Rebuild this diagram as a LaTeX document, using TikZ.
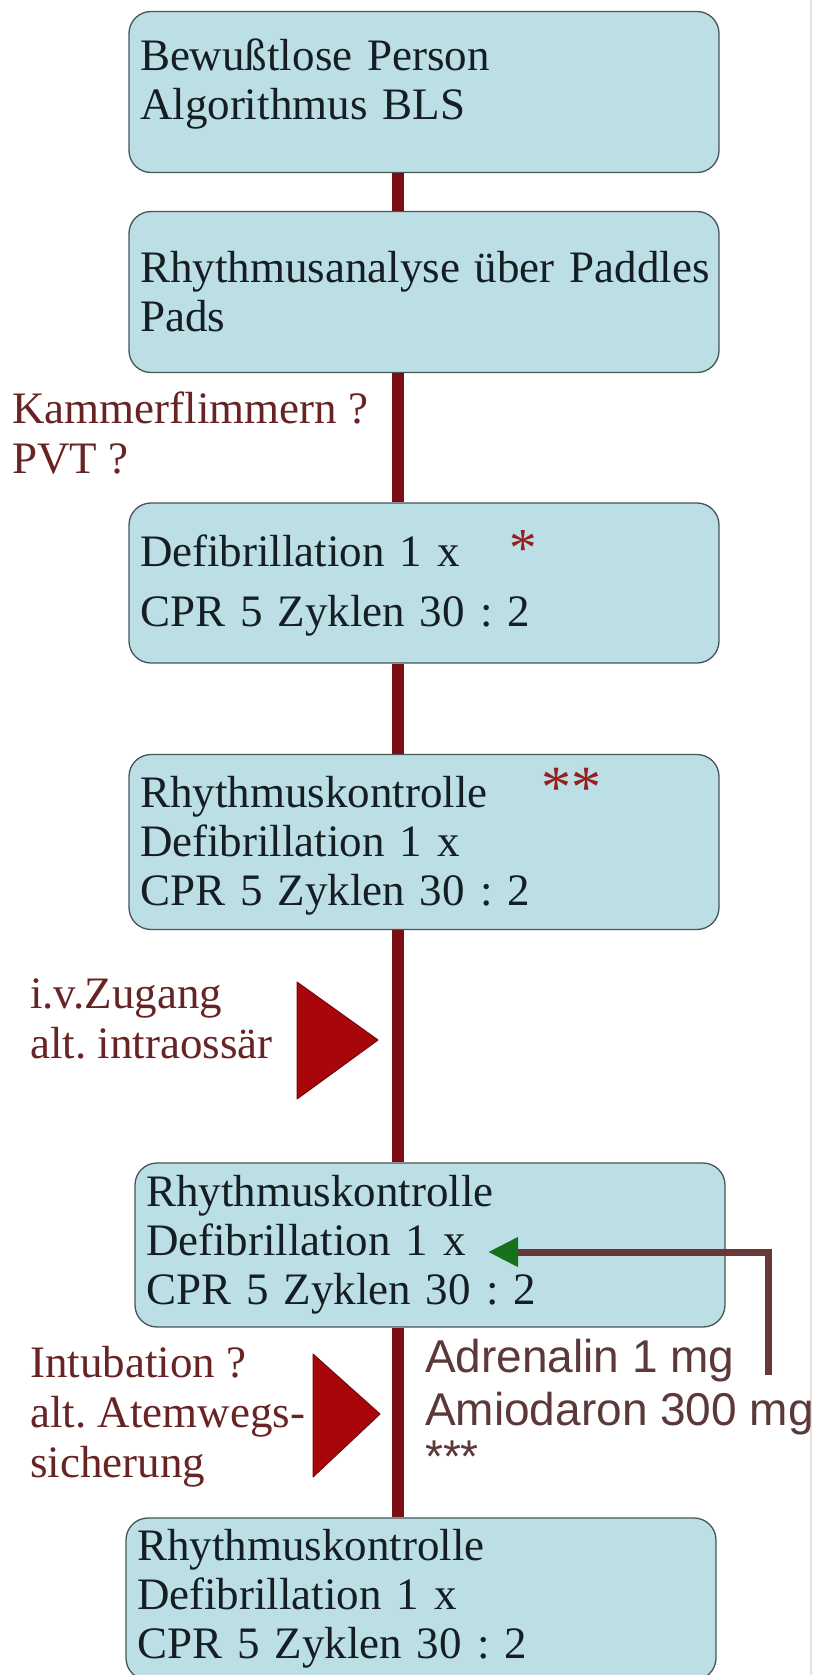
\documentclass[tikz,border=0pt]{standalone}
\usepackage{fontspec}
\setmainfont{Liberation Serif}
\newfontfamily\dosefont{Liberation Sans}
\usepackage{tikz}
\usetikzlibrary{positioning,arrows.meta}
\frenchspacing

\definecolor{boxfill}{RGB}{188,223,229}
\definecolor{boxline}{RGB}{70,85,90}
\definecolor{boxtext}{RGB}{20,30,35}
\definecolor{trunkred}{RGB}{122,14,20}
\definecolor{markred}{RGB}{168,6,10}
\definecolor{markedge}{RGB}{112,10,12}
\definecolor{notetext}{RGB}{104,36,36}
\definecolor{dosetext}{RGB}{92,56,56}
\definecolor{feedline}{RGB}{104,56,56}
\definecolor{tipgreen}{RGB}{22,112,28}
\definecolor{starred}{RGB}{150,30,30}
\definecolor{rimline}{RGB}{238,222,224}

\tikzset{
	stepbox/.style={draw=boxline, line width=1.3pt, fill=boxfill, rounded corners=22pt,
		minimum width=590pt, text width=568pt, align=left, inner sep=0pt,
		text=boxtext, font=\fontsize{45}{49}\selectfont},
	note/.style={align=left, inner sep=0pt, text=notetext, font=\fontsize{45}{50}\selectfont},
	dose/.style={align=left, inner sep=0pt, text=dosetext, font=\dosefont\fontsize{46}{53}\selectfont},
	trunk/.style={draw=trunkred, line width=12pt},
	marker/.style={fill=markred, draw=markedge, line width=1pt, line join=round},
	feed/.style={draw=feedline, line width=7pt, line join=miter,
		-{Triangle[length=30pt,width=28pt,color=tipgreen]}},
	rim/.style={draw=rimline, line width=1.5pt}
}

\newcommand{\redstar}[2]{{\fontsize{#1}{49}\selectfont\color{starred}#2}}

\begin{document}
\begin{tikzpicture}[x=1pt,y=-1pt]
\useasboundingbox[fill=white] (0,0) rectangle (816,1675);
\draw[rim] (811,0) -- (811,1675);

	% Schritte
	\node[stepbox, minimum height=161pt] (b1) at (424,92) {Bewußtlose Person\\Algorithmus BLS\rule[-26pt]{0pt}{0pt}};
	\node[stepbox, minimum height=161pt] (b2) at (424,292) {\mbox{Rhythmusanalyse über Paddles}\\Pads};
	\node[stepbox, minimum height=160pt] (b3) at (424,583) {Defibrillation 1 x\hspace{1.1em}\redstar{55}{*}\\[11pt]CPR 5 Zyklen 30 : 2};
	\node[stepbox, minimum height=175pt] (b4) at (424,842) {Rhythmuskontrolle\hspace{1.2em}\redstar{60}{**}\\Defibrillation 1 x\\CPR 5 Zyklen 30 : 2};
	\node[stepbox, minimum height=164pt] (b5) at (430,1245) {Rhythmuskontrolle\\Defibrillation 1 x\\CPR 5 Zyklen 30 : 2};
	\node[stepbox, minimum height=162pt] (b6) at (421,1599) {Rhythmuskontrolle\\Defibrillation 1 x\\CPR 5 Zyklen 30 : 2};

	% Beschriftungen (base = letzte Zeile)
	\node[note, anchor=base west] (vf) at (12,473) {Kammerflimmern ?\\PVT ?};
	\node[note, anchor=base west] (iv) at (30,1058) {i.v.Zugang\\alt. intraossär};
	\node[note, anchor=base west] (atw) at (30,1477) {Intubation ?\\alt. Atemwegs-\\sicherung};
	\node[dose, anchor=base west] (meds) at (425,1472) {Adrenalin 1 mg\\Amiodaron 300 mg\\[-6pt]***};

	\coordinate (spine) at (398,0);
	\coordinate (tri1) at (378,1040);
	\coordinate (tri2) at (380,1414);
	\coordinate (medsup) at (768,1375);
	\coordinate (defi) at (488,1252);

	\draw[trunk] (b1.south -| spine) -- (b2.north -| spine);
	\draw[trunk] (b2.south -| spine) -- (b3.north -| spine);
	\draw[trunk] (b3.south -| spine) -- (b4.north -| spine);
	\draw[trunk] (b4.south -| spine) -- (b5.north -| spine);
	\draw[trunk] (b5.south -| spine) -- (b6.north -| spine);

	\draw[marker] (tri1) -- ++(-81,-58) -- ++(0,117) -- cycle;
	\draw[marker] (tri2) -- ++(-67,-60) -- ++(0,123) -- cycle;

	\draw[feed] (medsup) |- (defi);
\end{tikzpicture}
\end{document}
